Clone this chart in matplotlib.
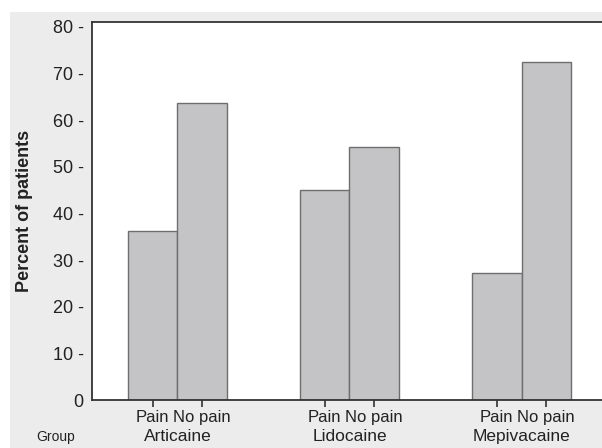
import matplotlib

matplotlib.use("Agg")
import matplotlib.pyplot as plt
import numpy as np
from matplotlib.patches import Rectangle
from matplotlib.ticker import FuncFormatter

groups = ["Articaine", "Lidocaine", "Mepivacaine"]
outcomes = ["Pain", "No pain"]
pain = [36.3, 44.9, 27.3]
no_pain = [63.7, 54.2, 72.4]
y_ticks = [0, 10, 20, 30, 40, 50, 60, 70, 80]

plt.rcParams["font.family"] = ["Liberation Sans", "DejaVu Sans"]

BAR_FACE = "#c4c4c6"
BAR_EDGE = "#6e6e6e"
PANEL_BG = "#ececec"
TEXT = "#222222"

fig = plt.figure(figsize=(6.02, 4.48), dpi=100)
fig.patch.set_facecolor("white")
# gray panel behind the chart, with a thin white margin on top and left
fig.patches.append(
    Rectangle((10 / 602, 0), 1, 1 - 12 / 448, transform=fig.transFigure,
              facecolor=PANEL_BG, edgecolor="none", zorder=-10)
)

ax = fig.add_axes([92 / 602, 48 / 448, 510 / 602, 378 / 448])
ax.set_facecolor("white")

x = np.arange(len(groups))
width = 0.288
ax.bar(x - width / 2, pain, width, color=BAR_FACE, edgecolor=BAR_EDGE, linewidth=1.0)
ax.bar(x + width / 2, no_pain, width, color=BAR_FACE, edgecolor=BAR_EDGE, linewidth=1.0)

ax.set_xlim(-0.497, 2.468)
ax.set_ylim(0, 81)

ax.spines["right"].set_visible(False)
for s in ["left", "bottom", "top"]:
    ax.spines[s].set_color("#333333")
    ax.spines[s].set_linewidth(1.3)

ax.set_yticks(y_ticks)
ax.yaxis.set_major_formatter(FuncFormatter(lambda v, _: f"{v:g} -" if v > 0 else "0"))
ax.tick_params(axis="y", length=0, pad=6, labelsize=13, labelcolor=TEXT)

tick_pos = np.concatenate([x - width / 2, x + width / 2])
tick_lab = [outcomes[0]] * len(groups) + [outcomes[1]] * len(groups)
ax.set_xticks(tick_pos)
ax.set_xticklabels(tick_lab)
ax.tick_params(axis="x", direction="out", length=5, width=1.2, color="#333333",
               pad=2, labelsize=12, labelcolor=TEXT)

for xi, g in zip(x, groups):
    ax.text(xi, -0.097, g, transform=ax.get_xaxis_transform(), ha="center", va="center",
            fontsize=12.5, color=TEXT)

fig.text(56 / 602, 1 - 437 / 448, "Group", ha="center", va="center", fontsize=10, color=TEXT)

ax.set_ylabel("Percent of patients", fontsize=13, fontweight="bold", color=TEXT)
ax.yaxis.set_label_coords(-0.115, 0.5)

fig.savefig("out.png", dpi=100, facecolor=fig.get_facecolor())
